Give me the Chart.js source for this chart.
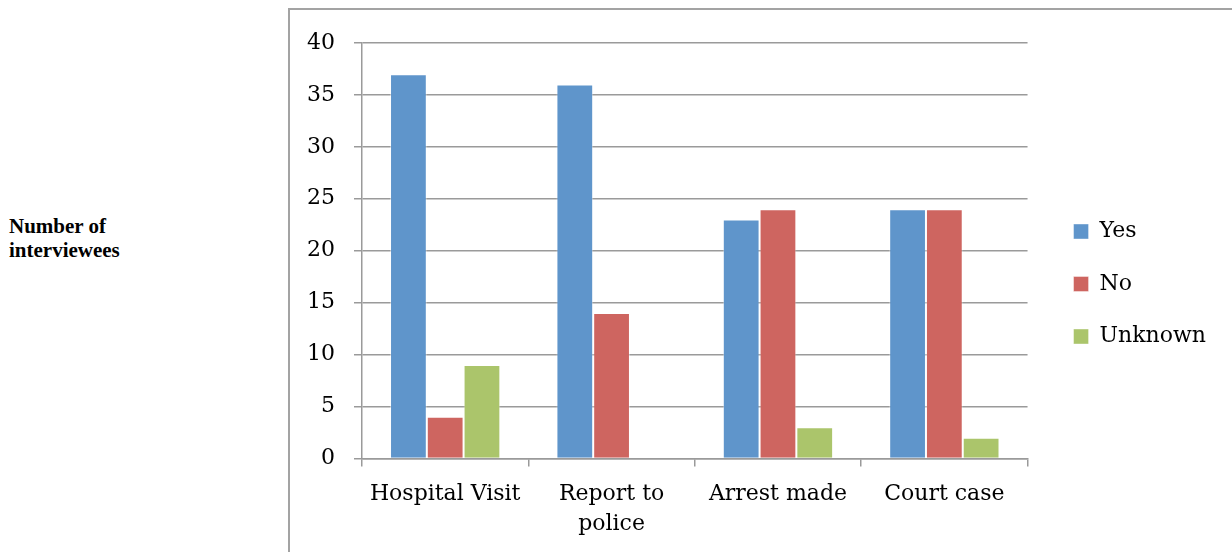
<!DOCTYPE html>
<html>
<head>
<meta charset="utf-8">
<script src="https://cdn.jsdelivr.net/npm/chart.js@4.4.1/dist/chart.umd.min.js"></script>
<style>
  html, body { margin: 0; padding: 0; background: #fff; }
  #wrap { position: relative; width: 1232px; height: 552px; overflow: hidden; }
  #frame { position: absolute; left: 288px; top: 8px; width: 1000px; height: 600px; border: 2px solid #a3a3a3; box-sizing: border-box; }
  #ytitle { position: absolute; left: 9px; top: 214px; font-family: "Liberation Serif", serif; font-weight: bold; font-size: 21px; line-height: 24px; color: #000; }
  canvas { position: absolute; left: 0; top: 0; }
</style>
</head>
<body>
<div id="wrap">
  <div id="frame"></div>
  <div id="ytitle">Number of<br>interviewees</div>
  <canvas id="c" width="1232" height="552"></canvas>
</div>
<script>
const categories = ["Hospital Visit", ["Report to", "police"], "Arrest made", "Court case"];
const seriesNames = ["Yes", "No", "Unknown"];
const yesValues = [37, 36, 23, 24];
const noValues = [4, 14, 24, 24];
const unknownValues = [9, 0, 3, 2];
const yTicks = [0, 5, 10, 15, 20, 25, 30, 35, 40];

const colors = ["#5F95CB", "#CE6560", "#ABC56B"];
const FONT = "'DejaVu Serif', serif";
const GRID = "#9a9a9a";

new Chart(document.getElementById("c"), {
  type: "bar",
  data: {
    labels: categories,
    datasets: [
      { label: seriesNames[0], data: yesValues, backgroundColor: colors[0] },
      { label: seriesNames[1], data: noValues, backgroundColor: colors[1] },
      { label: seriesNames[2], data: unknownValues, backgroundColor: colors[2] }
    ]
  },
  options: {
    responsive: false,
    animation: false,
    layout: { padding: { left: 288, right: 16, top: 43, bottom: 0 } },
    datasets: { bar: { categoryPercentage: 0.663, barPercentage: 1.0, borderWidth: 1, borderColor: "rgba(255,255,255,0.4)" } },
    plugins: {
      tooltip: { enabled: false },
      legend: {
        position: "right",
        align: "start",
        maxWidth: 260,
        title: { display: true, text: "", font: { size: 12, lineHeight: 1.2 }, padding: { top: 132.6, bottom: 0 } },
        labels: {
          font: { family: FONT, size: 22 },
          color: "#000",
          boxWidth: 15,
          boxHeight: 15,
          padding: 30.5
        }
      }
    },
    scales: {
      x: {
        grid: { display: true, drawOnChartArea: false, drawTicks: true, tickLength: 8, color: GRID, lineWidth: 1.5 },
        border: { display: true, color: GRID, width: 1.5 },
        ticks: { font: { family: FONT, size: 22, lineHeight: 1.4 }, color: "#000", padding: 12, maxRotation: 0, autoSkip: false }
      },
      y: {
        min: 0,
        max: 40,
        afterBuildTicks: (s) => { s.ticks = yTicks.map(v => ({ value: v })); },
        grid: { color: GRID, lineWidth: 1.5, drawTicks: true, tickLength: 8 },
        border: { display: true, color: GRID, width: 1.5 },
        ticks: { font: { family: FONT, size: 22, lineHeight: 1.6 }, color: "#000", padding: 19 }
      },
      gap: {
        position: "right",
        display: true,
        grid: { display: false },
        border: { display: false },
        ticks: { display: false },
        afterFit: (s) => { s.width = 15.5; }
      }
    }
  }
});
</script>
</body>
</html>
